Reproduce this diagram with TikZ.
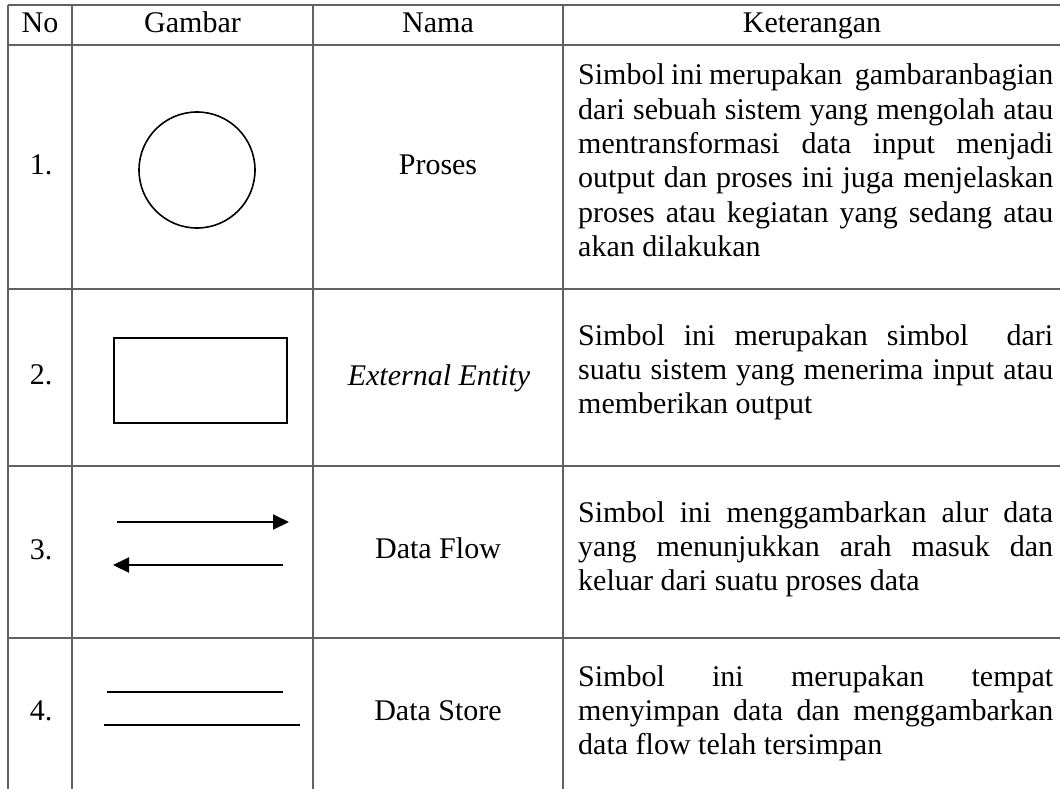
\documentclass[tikz,border=0pt]{standalone}
\usepackage{fontspec}
\setmainfont{Liberation Serif}
\usetikzlibrary{arrows.meta}
% one fully justified line of the description column
\newcommand\jline[1]{\makebox[475pt][s]{#1}\par}
\newcommand\desc[1]{\vtop{\hsize=475pt\parindent=0pt\baselineskip=34.3pt #1}}
\begin{document}
\begin{tikzpicture}[x=1pt,y=-1pt,
  rule/.style={draw=black!62, line width=1.5pt},
  sym/.style={draw=black, line width=1.6pt},
  txt/.style={inner sep=0pt, font=\fontsize{30}{34.3}\selectfont},
  flow/.style={draw=black, line width=2pt, -{Triangle[length=16pt,width=15pt]}},
  store/.style={draw=black, line width=1.2pt}]
\useasboundingbox (0,0) rectangle (1060,789);

% table rules (open at the right and at the bottom)
\foreach \y in {5,45,289,466,638} \draw[rule] (8,\y) -- (1060,\y);
\foreach \x in {8,72,313,563} \draw[rule] (\x,5) -- (\x,789);

% header
\node[txt, anchor=base] (hno) at (40,33) {No};
\node[txt, anchor=base] (hgb) at (192.5,33) {Gambar};
\node[txt, anchor=base] (hnm) at (438,33) {Nama};
\node[txt, anchor=base] (hkt) at (812,33) {Keterangan};

% numbers
\node[txt, anchor=base] (n1) at (41,175) {1.};
\node[txt, anchor=base] (n2) at (41,384) {2.};
\node[txt, anchor=base] (n3) at (41,559) {3.};
\node[txt, anchor=base] (n4) at (41,720) {4.};

% symbols
\node[sym, circle, minimum size=116pt, inner sep=0pt] (proses) at (197,170) {};
\node[sym, rectangle, minimum width=173pt, minimum height=85pt, inner sep=0pt] (entity) at (200.5,380.5) {};
\coordinate (fa1) at (117,522); \coordinate (fa2) at (289,522);
\coordinate (fb1) at (283,565); \coordinate (fb2) at (113,565);
\draw[flow] (fa1) -- (fa2);
\draw[flow] (fb1) -- (fb2);
\coordinate (sa1) at (107,692); \coordinate (sa2) at (283,692);
\coordinate (sb1) at (104,725); \coordinate (sb2) at (300,725);
\draw[store] (sa1) -- (sa2);
\draw[store] (sb1) -- (sb2);

% names
\node[txt, anchor=base] (m1) at (438,175) {Proses};
\node[txt, anchor=base] (m2) at (439,385) {\itshape External Entity};
\node[txt, anchor=base] (m3) at (438,558) {Data Flow};
\node[txt, anchor=base] (m4) at (438,720) {Data Store};

% descriptions
\node[txt, anchor=base west] (k1) at (578,85) {\desc{%
  \jline{Simbol ini merupakan\ \ gambaranbagian}%
  \jline{dari sebuah sistem yang mengolah atau}%
  \jline{mentransformasi data input menjadi}%
  \jline{output dan proses ini juga menjelaskan}%
  \jline{proses atau kegiatan yang sedang atau}%
  akan dilakukan}};
\node[txt, anchor=base west] (k2) at (578,345) {\desc{%
  \jline{Simbol ini merupakan simbol\ \ dari}%
  \jline{suatu sistem yang menerima input atau}%
  memberikan output}};
\node[txt, anchor=base west] (k3) at (578,522) {\desc{%
  \jline{Simbol ini menggambarkan alur data}%
  \jline{yang menunjukkan arah masuk dan}%
  keluar dari suatu proses data}};
\node[txt, anchor=base west] (k4) at (578,686) {\desc{%
  \jline{Simbol ini merupakan tempat}%
  \jline{menyimpan data dan menggambarkan}%
  data flow telah tersimpan}};
\end{tikzpicture}
\end{document}
